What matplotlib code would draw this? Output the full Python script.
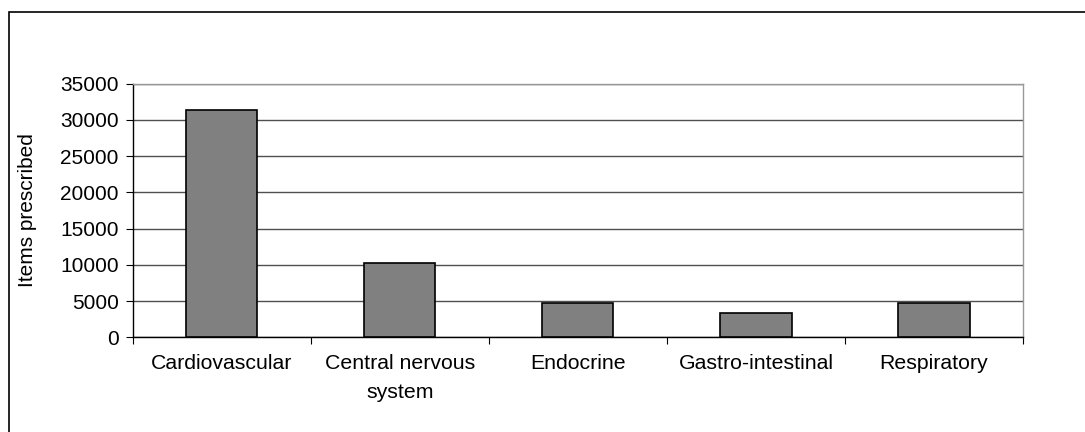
import matplotlib.pyplot as plt
from matplotlib.patches import Rectangle
import numpy as np

plt.rcParams['font.family'] = ['Liberation Sans', 'DejaVu Sans']

categories = ['Cardiovascular', 'Central nervous\nsystem', 'Endocrine',
              'Gastro-intestinal', 'Respiratory']
items = [31400, 10200, 4700, 3300, 4700]
yticks = [0, 5000, 10000, 15000, 20000, 25000, 30000, 35000]

fig = plt.figure(figsize=(10.85, 4.32), dpi=100)
ax = fig.add_axes([0.1223, 0.2192, 0.8206, 0.5871])

x = np.arange(len(categories))
ax.bar(x, items, width=0.40, color='#808080', edgecolor='black', linewidth=1.2, zorder=3)

ax.set_xlim(-0.5, len(categories) - 0.5)
ax.set_ylim(0, 35000)
ax.set_yticks(yticks)
ax.set_yticklabels([str(v) for v in yticks], fontsize=15)
ax.yaxis.grid(True, color='#505050', linewidth=1.0, zorder=0)

# category labels centred, tick marks between categories
ax.set_xticks(np.arange(-0.5, len(categories)), minor=False)
ax.set_xticklabels([])
ax.set_xticks(x, minor=True)
ax.set_xticklabels(categories, minor=True, fontsize=15.3, linespacing=1.65)
ax.tick_params(axis='x', which='minor', length=0, pad=12)
ax.tick_params(axis='x', which='major', length=5, direction='out', color='black')
ax.tick_params(axis='y', length=5, direction='out', color='black', pad=5)

ax.spines['left'].set_color('black')
ax.spines['bottom'].set_color('black')
ax.spines['top'].set_color('#999999')
ax.spines['right'].set_color('#999999')
for s in ax.spines.values():
    s.set_linewidth(1.0)

ax.set_ylabel('Items prescribed', fontsize=15, labelpad=17)

# outer chart border
fig.patches.append(Rectangle((9 / 1085, -0.1), 1.2, (432 - 11.5) / 432 + 0.1,
                             transform=fig.transFigure, fill=False,
                             edgecolor='black', linewidth=1.2))

fig.savefig('out.png', dpi=100)
